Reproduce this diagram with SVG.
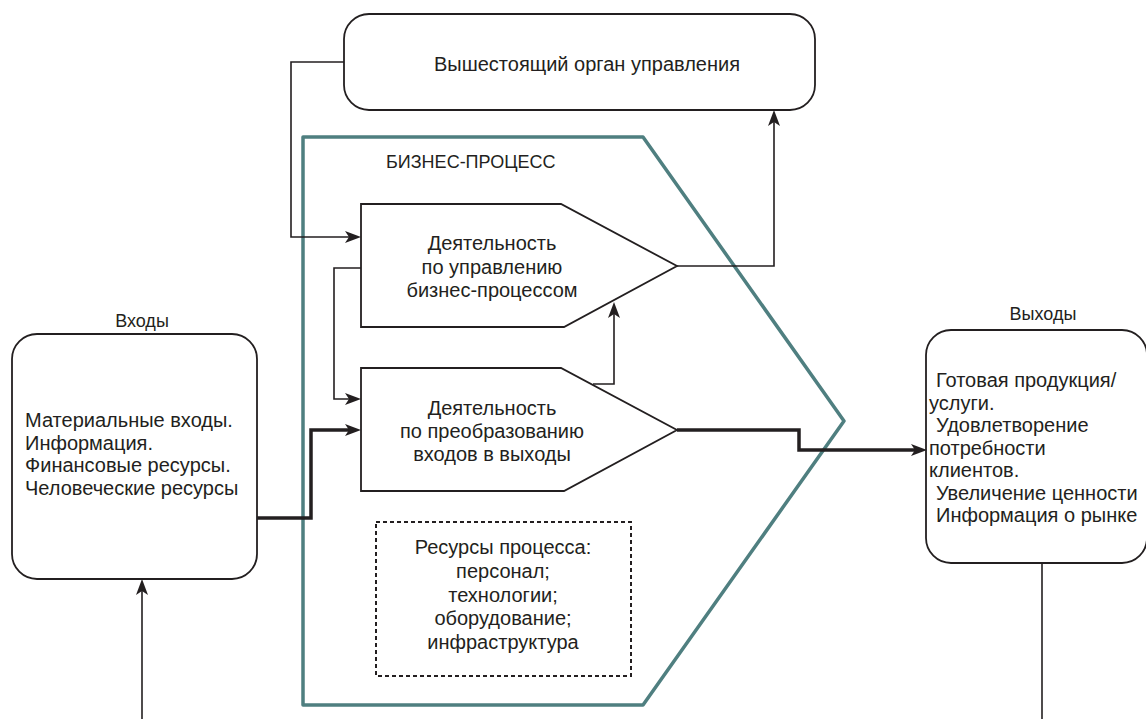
<svg xmlns="http://www.w3.org/2000/svg" width="1146" height="719" viewBox="0 0 1146 719">
<style>
text{font-family:"Liberation Sans",Arial,sans-serif;font-size:20px;fill:#231f20}
.c{text-anchor:middle}
.box{fill:#fff;stroke:#231f20;stroke-width:1.8}
.thin{fill:none;stroke:#231f20;stroke-width:1.6}
.thick{fill:none;stroke:#231f20;stroke-width:3.5}
.teal{fill:none;stroke:#4f7f80;stroke-width:3.5;stroke-linejoin:round}
.dash{fill:none;stroke:#231f20;stroke-width:2;stroke-dasharray:4 3}
</style>
<defs>
<marker id="ah" markerUnits="userSpaceOnUse" markerWidth="16" markerHeight="12" refX="10" refY="6" orient="auto">
<path d="M0,0 L16,6 L0,12 L4,6 Z" fill="#231f20"/>
</marker>
</defs>
<rect width="1146" height="719" fill="#fff"/>
<g id="business-process">
<polygon class="teal" points="303,137 643,137 844,421 643,705 303,705"/>
<text x="386" y="168" style="font-size:18px">БИЗНЕС-ПРОЦЕСС</text>
</g>
<g id="top-box">
<rect class="box" x="344" y="14" width="471" height="96" rx="25"/>
<text class="c" x="587" y="71">Вышестоящий орган управления</text>
</g>
<g id="inputs">
<text class="c" x="142" y="327" style="font-size:18px">Входы</text>
<rect class="box" x="12" y="334" width="245" height="245" rx="25"/>
<text x="25" y="427">Материальные входы.</text>
<text x="25" y="449.5">Информация.</text>
<text x="25" y="472">Финансовые ресурсы.</text>
<text x="25" y="494.5">Человеческие ресурсы</text>
</g>
<g id="outputs">
<text class="c" x="1043" y="320" style="font-size:18px">Выходы</text>
<rect class="box" x="926" y="330" width="221" height="233" rx="25"/>
<text x="936" y="387">Готовая продукция/</text>
<text x="929" y="409.5">услуги.</text>
<text x="936" y="432">Удовлетворение</text>
<text x="929" y="454.5">потребности</text>
<text x="929" y="477">клиентов.</text>
<text x="936" y="499.5">Увеличение ценности</text>
<text x="936" y="522">Информация о рынке</text>
</g>
<g id="management">
<path class="box" d="M361,204 L561,204 L677,266 L564,327 L361,327 Z"/>
<text class="c" x="492" y="250">Деятельность</text>
<text class="c" x="492" y="273.5">по управлению</text>
<text class="c" x="492" y="297">бизнес-процессом</text>
</g>
<g id="transformation">
<path class="box" d="M361,368 L561,368 L677,430 L564,491 L361,491 Z"/>
<text class="c" x="492" y="415">Деятельность</text>
<text class="c" x="492" y="438">по преобразованию</text>
<text class="c" x="492" y="461">входов в выходы</text>
</g>
<g id="resources">
<rect class="dash" x="376" y="522" width="255" height="154"/>
<text class="c" x="503" y="554">Ресурсы процесса:</text>
<text class="c" x="503" y="578">персонал;</text>
<text class="c" x="503" y="601.5">технологии;</text>
<text class="c" x="503" y="625">оборудование;</text>
<text class="c" x="503" y="649">инфраструктура</text>
</g>
<g id="connectors">
<path class="thin" d="M344,62 H291 V237 H355" marker-end="url(#ah)"/>
<path class="thin" d="M361,268 H334 V399 H355" marker-end="url(#ah)"/>
<path class="thick" d="M257,518 H311 V430 H355" marker-end="url(#ah)"/>
<path class="thin" d="M142,719 V585" marker-end="url(#ah)"/>
<path class="thin" d="M677,266 H774 V116" marker-end="url(#ah)"/>
<path class="thin" d="M593,384 H614 V308" marker-end="url(#ah)"/>
<path class="thick" d="M677,430 H799 V450 H921" marker-end="url(#ah)"/>
<path class="thin" d="M1042,563 V719"/>
</g>
</svg>
